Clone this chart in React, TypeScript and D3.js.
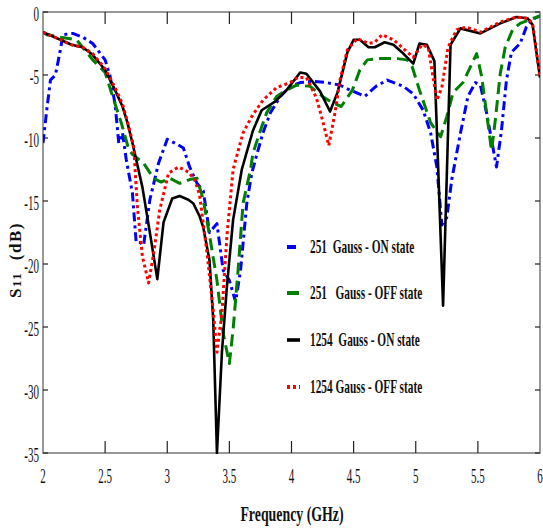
// S11 vs frequency for the two magnet strengths, ON and OFF state
import React, { useEffect, useRef } from "react"
import * as d3 from "d3"

const xTicks = [2, 2.5, 3, 3.5, 4, 4.5, 5, 5.5, 6]
const xTickLabels = ["2", "2.5", "3", "3.5", "4", "4.5", "5", "5.5", "6"]
const yTicks = [0, -5, -10, -15, -20, -25, -30, -35]

// 251 Gauss - ON state
const onLowFreq = [2.0, 2.03, 2.06, 2.1, 2.14, 2.16, 2.24, 2.32, 2.4, 2.5, 2.54, 2.58, 2.61, 2.64, 2.67, 2.72, 2.75, 2.78, 2.81, 2.86, 2.93, 3.0, 3.08, 3.13, 3.18, 3.24, 3.29, 3.34, 3.4, 3.45, 3.5, 3.55, 3.59, 3.64, 3.68, 3.71, 3.77, 3.83, 3.91, 3.99, 4.07, 4.17, 4.28, 4.39, 4.45, 4.59, 4.68, 4.77, 4.9, 4.98, 5.06, 5.12, 5.17, 5.21, 5.25, 5.29, 5.36, 5.42, 5.48, 5.52, 5.57, 5.65, 5.69, 5.73, 5.77, 5.84, 5.89, 5.94, 6.0]
const onLowS11 = [-10.4, -7.8, -5.4, -5.0, -3.0, -1.8, -1.7, -2.0, -2.5, -3.8, -5.1, -7.3, -10.4, -9.6, -11.7, -14.4, -18.3, -18.3, -18.5, -14.9, -12.0, -10.1, -10.5, -10.8, -12.3, -13.6, -14.2, -17.5, -16.8, -20.5, -21.3, -23.0, -20.5, -15.2, -12.8, -11.7, -9.6, -8.0, -6.7, -5.9, -5.6, -5.5, -5.6, -5.8, -6.1, -6.7, -5.9, -5.4, -5.9, -6.5, -7.8, -9.6, -12.3, -16.9, -16.3, -13.3, -9.6, -6.7, -5.6, -5.8, -8.0, -12.3, -9.4, -5.4, -3.2, -2.5, -1.2, -0.6, -0.3]

// 251 Gauss - OFF state
const offLowFreq = [2.0, 2.03, 2.14, 2.27, 2.4, 2.5, 2.56, 2.63, 2.69, 2.72, 2.81, 2.89, 2.95, 3.02, 3.1, 3.18, 3.24, 3.29, 3.34, 3.4, 3.45, 3.5, 3.53, 3.57, 3.61, 3.67, 3.69, 3.75, 3.8, 3.88, 3.96, 4.04, 4.15, 4.25, 4.33, 4.4, 4.49, 4.55, 4.61, 4.71, 4.85, 4.93, 4.97, 5.03, 5.12, 5.2, 5.25, 5.3, 5.38, 5.49, 5.53, 5.57, 5.61, 5.64, 5.68, 5.72, 5.78, 5.84, 5.92, 6.0]
const offLowS11 = [-1.6, -1.8, -2.0, -2.2, -3.8, -4.8, -6.7, -8.8, -10.9, -11.3, -12.0, -13.2, -13.5, -13.2, -13.6, -13.3, -13.2, -14.9, -17.7, -21.3, -25.5, -27.9, -25.2, -20.5, -15.2, -12.5, -11.2, -9.4, -8.0, -6.7, -6.2, -5.8, -5.9, -6.7, -7.2, -7.5, -6.2, -4.6, -3.8, -3.7, -3.7, -3.8, -4.3, -6.2, -8.8, -9.9, -8.3, -6.4, -5.6, -3.3, -5.1, -8.0, -11.0, -8.6, -4.9, -2.8, -1.4, -0.9, -0.6, -0.3]

// 1254 Gauss - ON state
const onHighFreq = [2.0, 2.14, 2.23, 2.32, 2.4, 2.5, 2.58, 2.64, 2.68, 2.72, 2.8, 2.86, 2.92, 2.97, 3.04, 3.1, 3.17, 3.21, 3.26, 3.29, 3.34, 3.37, 3.4, 3.44, 3.48, 3.53, 3.6, 3.69, 3.76, 3.87, 3.96, 4.07, 4.12, 4.23, 4.31, 4.37, 4.45, 4.5, 4.55, 4.62, 4.67, 4.75, 4.82, 4.9, 4.98, 5.03, 5.09, 5.15, 5.22, 5.28, 5.36, 5.52, 5.68, 5.81, 5.9, 5.94, 6.0]
const onHighS11 = [-1.6, -2.2, -2.6, -2.8, -3.4, -4.6, -6.2, -7.5, -8.8, -10.4, -13.9, -17.5, -21.2, -16.7, -14.8, -14.6, -14.9, -15.2, -16.2, -17.1, -19.7, -24.4, -35, -27, -21.8, -16.5, -12.5, -9.4, -7.8, -7.1, -6.2, -4.8, -4.9, -6.3, -7.9, -6.4, -3.2, -2.2, -2.2, -2.8, -2.8, -2.4, -2.6, -3.3, -4.1, -2.5, -2.6, -3.9, -23.3, -2.6, -1.3, -1.7, -0.9, -0.4, -0.5, -1.0, -5.2]

// 1254 Gauss - OFF state
const offHighFreq = [2.0, 2.14, 2.23, 2.32, 2.4, 2.5, 2.58, 2.64, 2.68, 2.73, 2.76, 2.8, 2.85, 2.89, 2.94, 3.01, 3.09, 3.17, 3.22, 3.26, 3.32, 3.37, 3.4, 3.44, 3.48, 3.53, 3.61, 3.68, 3.77, 3.88, 3.99, 4.05, 4.12, 4.2, 4.25, 4.3, 4.35, 4.39, 4.45, 4.53, 4.62, 4.67, 4.73, 4.82, 4.9, 4.98, 5.05, 5.1, 5.17, 5.21, 5.26, 5.33, 5.41, 5.52, 5.68, 5.81, 5.9, 5.94, 6.0]
const offHighS11 = [-1.6, -2.2, -2.6, -2.8, -3.3, -4.5, -6.0, -7.3, -8.7, -10.7, -15.5, -19.4, -21.5, -19.2, -15.7, -12.8, -12.3, -12.7, -13.3, -14.5, -19.1, -23.7, -27, -23.9, -17.8, -12.5, -9.6, -8.3, -7.0, -6.0, -5.6, -5.2, -5.2, -6.8, -8.6, -10.6, -8.0, -5.4, -3.0, -2.1, -2.5, -2.4, -1.8, -2.2, -2.9, -3.6, -2.6, -2.8, -7.0, -6.0, -2.8, -1.4, -1.2, -1.6, -0.8, -0.4, -0.5, -0.9, -5.2]

const seriesNames = ["251  Gauss - ON state", "251   Gauss - OFF state", "1254  Gauss - ON state", "1254 Gauss - OFF state"]

function App() {
  const ref = useRef(null)

  useEffect(() => {
    const svg = d3.select(ref.current)
    svg.selectAll("*").remove()

    const left = 43, right = 540, top = 12, bottom = 453
    const font = "'Liberation Serif', 'Times New Roman', serif"

    const x = d3.scaleLinear().domain([2, 6]).range([left, right])
    const y = d3.scaleLinear().domain([-35, 0]).range([bottom, top])

    const styles = [
      { color: "#0000ff", width: 3, dash: "9,4,3,4", f: onLowFreq, s: onLowS11 },
      { color: "#008000", width: 3, dash: "12,6", f: offLowFreq, s: offLowS11 },
      { color: "#000000", width: 2.6, dash: null, f: onHighFreq, s: onHighS11 },
      { color: "#ff0000", width: 3, dash: "3,3", f: offHighFreq, s: offHighS11 },
    ]

    // narrow serif text, the figure's fonts are condensed
    const ctext = (g, px, py, str, size, sx, anchor, weight) =>
      g.append("text")
        .attr("transform", `translate(${px},${py}) scale(${sx},1)`)
        .attr("text-anchor", anchor)
        .attr("font-family", font)
        .attr("font-size", size)
        .attr("font-weight", weight)
        .attr("fill", "#111")
        .style("white-space", "pre")
        .text(str)

    svg.append("defs").append("clipPath").attr("id", "plotclip")
      .append("rect").attr("x", left).attr("y", top - 1)
      .attr("width", right - left).attr("height", bottom - top + 2)

    // box
    svg.append("rect")
      .attr("x", left).attr("y", top)
      .attr("width", right - left).attr("height", bottom - top)
      .attr("fill", "none").attr("stroke", "#777").attr("stroke-width", 1.5)

    const ticks = svg.append("g").attr("stroke", "#222").attr("stroke-width", 1.2)
    xTicks.slice(1, -1).forEach(t => {
      ticks.append("line").attr("x1", x(t)).attr("x2", x(t)).attr("y1", bottom).attr("y2", bottom - 12)
      ticks.append("line").attr("x1", x(t)).attr("x2", x(t)).attr("y1", top).attr("y2", top + 12)
    })
    yTicks.forEach(t => {
      ticks.append("line").attr("x1", left).attr("x2", left + 5).attr("y1", y(t)).attr("y2", y(t))
      ticks.append("line").attr("x1", right).attr("x2", right - 5).attr("y1", y(t)).attr("y2", y(t))
    })

    xTicks.forEach((t, i) => ctext(svg, x(t), 483, xTickLabels[i], 20, 0.55, "middle", "normal"))
    yTicks.forEach(t => ctext(svg, 39, y(t) + 9, String(t), 20, 0.55, "end", "normal"))

    ctext(svg, 292, 521, "Frequency (GHz)", 21, 0.66, "middle", "bold")

    const yl = svg.append("text")
      .attr("transform", "translate(21,260) rotate(-90)")
      .attr("text-anchor", "middle")
      .attr("font-family", font)
      .attr("font-size", 17)
      .attr("font-weight", "bold")
      .attr("letter-spacing", 1.5)
      .attr("fill", "#111")
      .style("white-space", "pre")
    yl.append("tspan").text("S")
    yl.append("tspan").attr("font-size", 13).text("11")
    yl.append("tspan").text("  (dB)")

    const line = d3.line().x(d => x(d[0])).y(d => y(d[1]))
    const plot = svg.append("g").attr("clip-path", "url(#plotclip)")
    styles.forEach(st => {
      const pts = st.f.map((f, i) => [f, st.s[i]])
      plot.append("path")
        .datum(pts)
        .attr("d", line)
        .attr("fill", "none")
        .attr("stroke", st.color)
        .attr("stroke-width", st.width)
        .attr("stroke-dasharray", st.dash)
        .attr("stroke-linejoin", "round")
    })

    // legend
    const legY = [247, 293, 340, 387]
    styles.forEach((st, i) => {
      svg.append("line")
        .attr("x1", 287).attr("x2", 300)
        .attr("y1", legY[i]).attr("y2", legY[i])
        .attr("stroke", st.color)
        .attr("stroke-width", st.width + 1)
        .attr("stroke-dasharray", st.dash)
      ctext(svg, 310, legY[i] + 6, seriesNames[i], 18, 0.63, "start", "bold")
    })
  }, [])

  return <svg ref={ref} width={543} height={528} style={{ position: "absolute", left: 0, top: 0, background: "#fff" }}></svg>
}

export default App
